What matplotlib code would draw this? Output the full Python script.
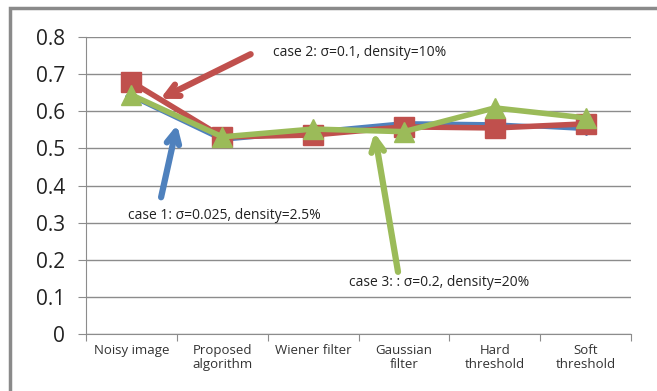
import numpy as np
import matplotlib
matplotlib.use("Agg")
from matplotlib import pyplot as plt
from matplotlib.patches import Rectangle

categories = ["Noisy image", "Proposed\nalgorithm", "Wiener filter",
              "Gaussian\nfilter", "Hard\nthreshold", "Soft\nthreshold"]
case1 = [0.64, 0.523, 0.545, 0.568, 0.565, 0.552]
case2 = [0.679, 0.531, 0.536, 0.558, 0.555, 0.566]
case3 = [0.644, 0.531, 0.552, 0.545, 0.609, 0.582]
yticks = [0, 0.1, 0.2, 0.3, 0.4, 0.5, 0.6, 0.7, 0.8]
ytick_labels = ["0", "0.1", "0.2", "0.3", "0.4", "0.5", "0.6", "0.7", "0.8"]

blue = "#4F81BD"
red = "#C0504D"
green = "#9BBB59"
grid_c = "#8C8C8C"

plt.rcParams['font.family'] = ['Open Sans', 'DejaVu Sans']

fig = plt.figure(figsize=(6.57, 3.91), dpi=100)
# outer chart frame (cut off at right and bottom)
fig.patches.append(Rectangle((10 / 657, -0.1), 1.2, 1 - 8 / 391 + 0.1,
                             transform=fig.transFigure, fill=False,
                             edgecolor="#8A8A8A", linewidth=2.5))

ax = fig.add_axes([86 / 657, 1 - 334 / 391, 545 / 657, 297 / 391])
x = np.arange(len(categories))

ax.plot(x, case1, color=blue, lw=3, marker="D", ms=6, zorder=3)
ax.plot(x, case2, color=red, lw=4, marker="s", ms=14, zorder=4)
ax.plot(x, case3, color=green, lw=4, marker="^", ms=15, zorder=5)

ax.set_xlim(-0.5, 5.5)
ax.set_ylim(0, 0.8)
ax.set_yticks(yticks)
ax.set_yticklabels(ytick_labels, fontsize=15, color="#222222")
ax.yaxis.grid(True, color=grid_c, lw=1)
ax.set_axisbelow(True)
ax.set_xticks(np.arange(-0.5, 6, 1))
ax.set_xticklabels([])
ax.set_xticks(x, minor=True)
ax.set_xticklabels(categories, minor=True, fontsize=9.5, color="#333333",
                   linespacing=1.1)
ax.tick_params(axis="x", which="minor", length=0, pad=7)
ax.tick_params(axis="x", which="major", length=5, color=grid_c)
ax.tick_params(axis="y", length=6, color=grid_c, pad=9)
for s in ["top", "right"]:
    ax.spines[s].set_visible(False)
ax.spines["left"].set_color(grid_c)
ax.spines["bottom"].set_color(grid_c)

# annotations
ax.annotate("", xy=(0.29, 0.63), xytext=(1.34, 0.757),
            arrowprops=dict(arrowstyle="->,head_length=0.9,head_width=0.45",
                            color=red, lw=4.5), zorder=6)
ax.text(1.56, 0.757, "case 2: σ=0.1, density=10%", fontsize=10,
        va="center", ha="left", color="#222222")

ax.annotate("", xy=(0.51, 0.571), xytext=(0.32, 0.361),
            arrowprops=dict(arrowstyle="->,head_length=0.9,head_width=0.45",
                            color=blue, lw=4.5), zorder=6)
ax.text(1.02, 0.32, "case 1: σ=0.025, density=2.5%", fontsize=10,
        va="center", ha="center", color="#222222")

ax.annotate("", xy=(2.67, 0.55), xytext=(2.94, 0.16),
            arrowprops=dict(arrowstyle="->,head_length=0.9,head_width=0.45",
                            color=green, lw=4.5), zorder=6)
ax.text(2.39, 0.139, "case 3: : σ=0.2, density=20%", fontsize=10,
        va="center", ha="left", color="#222222")

fig.savefig("out.png", dpi=100)
